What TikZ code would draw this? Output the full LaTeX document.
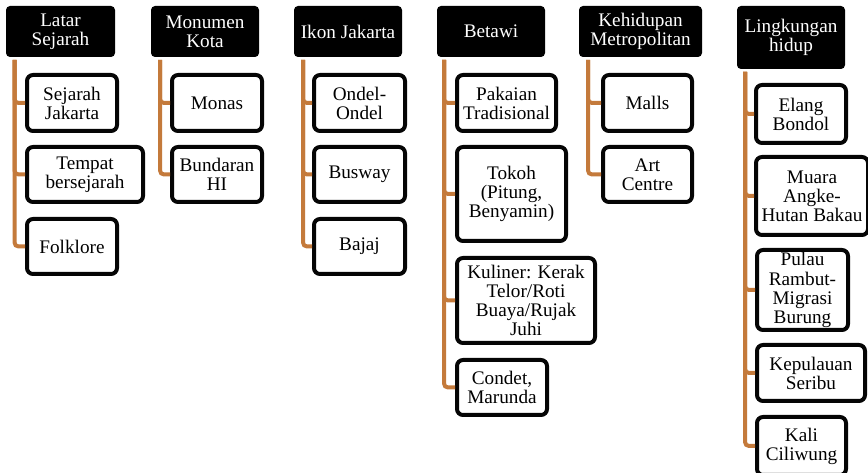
\documentclass[tikz,border=0pt]{standalone}
\usepackage{fontspec}
\setmainfont{Liberation Serif}
\usepackage{xcolor}
\usepackage{tikz}
\usetikzlibrary{
  arrows.meta,
  positioning,
  calc
}
\definecolor{jkHead}{HTML}{000000}
\definecolor{jkTrunk}{HTML}{C47A3B}
\definecolor{jkBorder}{HTML}{050505}
\tikzset{
  jknode/.style={
    rounded corners=4.5pt, align=center, inner sep=1pt,
    font=\fontsize{14.4}{14.3}\selectfont
  },
  head/.style={jknode, fill=jkHead, text=white, rounded corners=3pt,
    minimum width=81pt, minimum height=38.25pt},
  leaf/.style={jknode, draw=jkBorder, fill=white, line width=3pt,
    minimum width=67.5pt, minimum height=42pt},
  trunk/.style={line width=3pt, jkTrunk, rounded corners=3pt}
}

\begin{document}
\begin{tikzpicture}[x=0.75pt, y=-0.75pt]
  \useasboundingbox (0,0) rectangle (868,473);

  \node[head, minimum width=81.75pt] (h1) at (60.5,31.5) {Latar\\Sejarah};
  \node[head] (h2) at (205,31.5) {Monumen\\Kota};
  \node[head] (h3) at (348,31.5) {Ikon Jakarta};
  \node[head] (h4) at (491,31.5) {Betawi};
  \node[head, minimum width=92.25pt] (h5) at (640.5,31.5) {Kehidupan\\Metropolitan};
  \node[head, minimum height=47.25pt] (h6) at (791,37.5) {Lingkungan\\hidup};

  \node[leaf] (a1) at (72,103) {Sejarah\\Jakarta};
  \node[leaf, minimum width=87pt, minimum height=41.25pt] (a2) at (85,174.5) {Tempat\\bersejarah};
  \node[leaf, minimum height=41.25pt] (a3) at (72,246.5) {Folklore};

  \node[leaf] (b1) at (217,103) {Monas};
  \node[leaf, minimum height=41.25pt] (b2) at (217,174.5) {Bundaran\\HI};

  \node[leaf, minimum width=68.25pt] (c1) at (359.5,103) {Ondel-\\Ondel};
  \node[leaf, minimum width=68.25pt, minimum height=41.25pt] (c2) at (359.5,174.5) {Busway};
  \node[leaf, minimum width=68.25pt, minimum height=41.25pt] (c3) at (359.5,246.5) {Bajaj};

  \node[leaf, minimum width=74.25pt] (d1) at (506.5,103) {Pakaian\\Tradisional};
  \node[leaf, minimum width=81.75pt, minimum height=70.5pt] (d2) at (511.5,194) {Tokoh\\(Pitung,\\Benyamin)};
  \node[leaf, minimum width=103.5pt, minimum height=63.75pt] (d3) at (526,300.5) {Kuliner: Kerak\\Telor/Roti\\Buaya/Rujak\\Juhi};
  \node[leaf, minimum height=41.25pt] (d4) at (502,387.5) {Condet,\\Marunda};

  \node[leaf, minimum width=66.75pt] (e1) at (647.5,103) {Malls};
  \node[leaf, minimum width=66.75pt, minimum height=41.25pt] (e2) at (647.5,174.5) {Art\\Centre};

  \node[leaf, minimum height=43.5pt] (f1) at (801,114) {Elang\\Bondol};
  \node[leaf, minimum width=84pt, minimum height=58.5pt] (f2) at (812,196) {Muara\\Angke-\\Hutan Bakau};
  \node[leaf, minimum width=68.25pt, minimum height=60pt] (f3) at (802.5,290) {Pulau\\Rambut-\\Migrasi\\Burung};
  \node[leaf, minimum width=81pt] (f4) at (811,373) {Kepulauan\\Seribu};
  \node[leaf, minimum width=66.75pt, minimum height=43.5pt] (f5) at (801.5,446) {Kali\\Ciliwung};

  \coordinate (t1) at (14.5,60);
  \coordinate (t2) at (160,60);
  \coordinate (t3) at (303,60);
  \coordinate (t4) at (444,60);
  \coordinate (t5) at (588,60);
  \coordinate (t6) at (745,72);

  \foreach \leafname in {a1,a2,a3} \draw[trunk] (t1) |- (\leafname.west);
  \foreach \leafname in {b1,b2} \draw[trunk] (t2) |- (\leafname.west);
  \foreach \leafname in {c1,c2,c3} \draw[trunk] (t3) |- (\leafname.west);
  \foreach \leafname in {d1,d2,d3,d4} \draw[trunk] (t4) |- (\leafname.west);
  \foreach \leafname in {e1,e2} \draw[trunk] (t5) |- (\leafname.west);
  \foreach \leafname in {f1,f2,f3,f4,f5} \draw[trunk] (t6) |- (\leafname.west);
\end{tikzpicture}
\end{document}
